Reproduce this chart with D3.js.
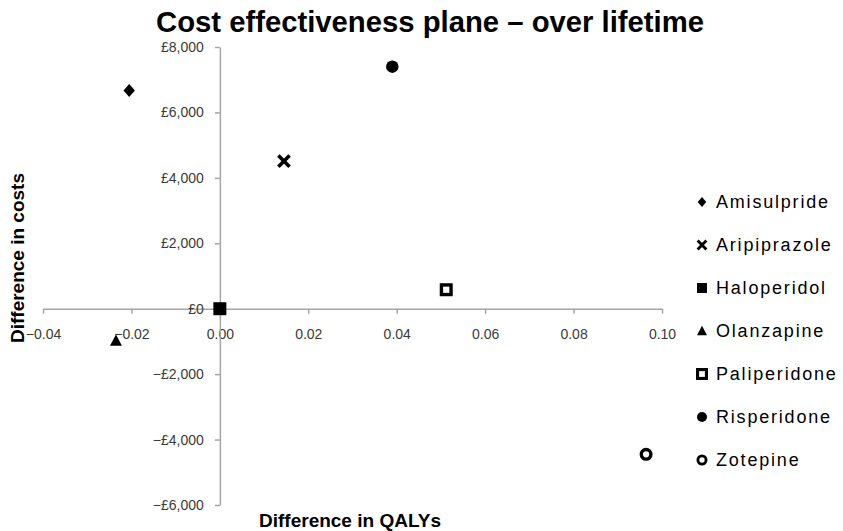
<!DOCTYPE html>
<html>
<head>
<meta charset="utf-8">
<script src="https://cdn.jsdelivr.net/npm/d3@7"></script>
<style>
  html, body { margin: 0; padding: 0; background: #fff; }
  svg { display: block; }
</style>
</head>
<body>
<svg id="chart" width="843" height="531"></svg>
<script>
// ---- Data ----
const drugs = ["Amisulpride", "Aripiprazole", "Haloperidol", "Olanzapine", "Paliperidone", "Risperidone", "Zotepine"];
const markers = ["diamond", "cross", "square", "triangle", "squareOpen", "circle", "circleOpen"];
const qalyDiff = [-0.0205, 0.0145, 0.0, -0.0235, 0.0512, 0.0390, 0.0964];
const costDiff = [6670, 4510, 0, -980, 580, 7400, -4450];
const xTicks = [-0.04, -0.02, 0.00, 0.02, 0.04, 0.06, 0.08, 0.10];
const yTicks = [-6000, -4000, -2000, 0, 2000, 4000, 6000, 8000];
const titleText = "Cost effectiveness plane \u2013 over lifetime";
const xTitle = "Difference in QALYs";
const yTitle = "Difference in costs";

// ---- Chart ----
const svg = d3.select("#chart");
const x = d3.scaleLinear().domain([-0.04, 0.10]).range([43, 662]);
const y = d3.scaleLinear().domain([-6000, 8000]).range([505, 47]);

const axisColor = "#a6a6a6";
const labelColor = "#3a3a3a";

const fmtX = d => (d < 0 ? "\u2212" : "") + d3.format(".2f")(Math.abs(d));
const fmtY = d => (d < 0 ? "\u2212" : "") + "\u00a3" + d3.format(",")(Math.abs(d));

const xAxis = svg.append("g")
  .attr("transform", `translate(0,${y(0)})`)
  .call(d3.axisBottom(x).tickValues(xTicks).tickFormat(fmtX).tickSize(5).tickSizeOuter(0).tickPadding(15));
const yAxis = svg.append("g")
  .attr("transform", `translate(${x(0)},0)`)
  .call(d3.axisLeft(y).tickValues(yTicks).tickFormat(fmtY).tickSize(5).tickSizeOuter(0).tickPadding(11));

[xAxis, yAxis].forEach(a => {
  a.select(".domain").attr("stroke", axisColor).attr("stroke-width", 1.5);
  a.selectAll(".tick line").attr("stroke", axisColor).attr("stroke-width", 1.5);
  a.selectAll(".tick text")
    .attr("fill", labelColor)
    .style("font-family", "'Liberation Sans', Arial, sans-serif")
    .style("font-size", "14px");
});

// ---- Marker drawing ----
function drawMarker(g, type, s) {
  const h = s / 2;
  switch (type) {
    case "diamond":
      g.append("path").attr("d", `M0,${-h*1.1}L${h*0.95},0L0,${h*1.1}L${-h*0.95},0Z`).attr("fill", "#000");
      break;
    case "cross":
      g.append("path").attr("d", `M${-h*0.8},${-h*0.8}L${h*0.8},${h*0.8}M${h*0.8},${-h*0.8}L${-h*0.8},${h*0.8}`)
        .attr("stroke", "#000").attr("stroke-width", s * 0.26).attr("fill", "none");
      break;
    case "square":
      g.append("rect").attr("x", -h).attr("y", -h).attr("width", s).attr("height", s).attr("fill", "#000");
      break;
    case "triangle":
      g.append("path").attr("d", `M0,${-h*1.05}L${h*1.0},${h*0.85}L${-h*1.0},${h*0.85}Z`).attr("fill", "#000");
      break;
    case "squareOpen":
      g.append("rect").attr("x", -h + s*0.13).attr("y", -h + s*0.13).attr("width", s - s*0.26).attr("height", s - s*0.26)
        .attr("fill", "#fff").attr("stroke", "#000").attr("stroke-width", s * 0.26);
      break;
    case "circle":
      g.append("circle").attr("r", h).attr("fill", "#000");
      break;
    case "circleOpen":
      g.append("circle").attr("r", h - s*0.13).attr("fill", "#fff").attr("stroke", "#000").attr("stroke-width", s * 0.26);
      break;
  }
}

const pointSizes = {diamond: 12, cross: 14, square: 13, triangle: 12, squareOpen: 13, circle: 12.5, circleOpen: 13};
drugs.forEach((d, i) => {
  const g = svg.append("g").attr("transform", `translate(${x(qalyDiff[i])},${y(costDiff[i])})`);
  drawMarker(g, markers[i], pointSizes[markers[i]]);
});

// ---- Titles ----
svg.append("text")
  .attr("x", 430).attr("y", 32)
  .attr("text-anchor", "middle")
  .attr("textLength", 548).attr("lengthAdjust", "spacingAndGlyphs")
  .style("font-family", "'Liberation Sans Narrow', 'Liberation Sans', Arial, sans-serif")
  .style("font-weight", "bold").style("font-size", "30px")
  .attr("fill", "#000")
  .text(titleText);

svg.append("text")
  .attr("transform", "translate(24,258) rotate(-90)")
  .attr("text-anchor", "middle")
  .style("font-family", "'Liberation Sans', Arial, sans-serif")
  .style("font-weight", "bold").style("font-size", "19px")
  .attr("fill", "#000")
  .text(yTitle);

svg.append("text")
  .attr("x", 350).attr("y", 527)
  .attr("text-anchor", "middle")
  .style("font-family", "'Liberation Sans', Arial, sans-serif")
  .style("font-weight", "bold").style("font-size", "19px")
  .attr("fill", "#000")
  .text(xTitle);

// ---- Legend ----
const legendSizes = {diamond: 9, cross: 11, square: 10, triangle: 10, squareOpen: 12, circle: 10, circleOpen: 11};
const legend = svg.append("g");
drugs.forEach((d, i) => {
  const ly = 202 + i * 43;
  const g = legend.append("g").attr("transform", `translate(702,${ly})`);
  drawMarker(g, markers[i], legendSizes[markers[i]]);
  legend.append("text")
    .attr("x", 716).attr("y", ly).attr("dy", "0.36em")
    .style("font-family", "'Liberation Sans', Arial, sans-serif")
    .style("font-size", "18px")
    .style("letter-spacing", "1.8px")
    .attr("fill", "#000")
    .text(d);
});
</script>
</body>
</html>
